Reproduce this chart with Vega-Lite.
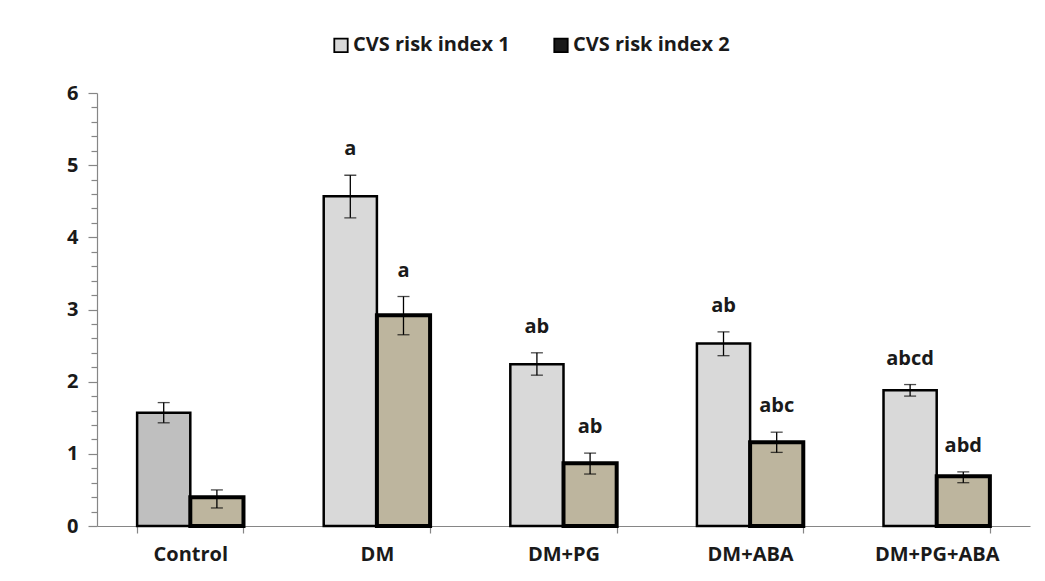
{
  "$schema": "https://vega.github.io/schema/vega-lite/v6.json",
  "width": 933,
  "height": 433,
  "autosize": {"type": "none"},
  "padding": {"left": 97, "top": 93, "right": 15, "bottom": 55},
  "background": "white",
  "config": {
    "view": {"stroke": null},
    "font": "Open Sans",
    "axis": {"labelFont": "Open Sans", "labelFontWeight": "bold", "labelFontSize": 20, "labelColor": "#1a1a1a", "domainColor": "#868686", "tickColor": "#868686", "grid": false, "title": null, "labelOverlap": false, "labelBound": false}
  },
  "data": {
    "values": [
      {"group": "Control", "index": "CVS risk index 1", "value": 1.57, "lo": 1.43, "hi": 1.71, "label": ""},
      {"group": "Control", "index": "CVS risk index 2", "value": 0.40, "lo": 0.25, "hi": 0.50, "label": ""},
      {"group": "DM", "index": "CVS risk index 1", "value": 4.57, "lo": 4.27, "hi": 4.86, "label": "a"},
      {"group": "DM", "index": "CVS risk index 2", "value": 2.92, "lo": 2.65, "hi": 3.18, "label": "a"},
      {"group": "DM+PG", "index": "CVS risk index 1", "value": 2.24, "lo": 2.09, "hi": 2.40, "label": "ab"},
      {"group": "DM+PG", "index": "CVS risk index 2", "value": 0.87, "lo": 0.72, "hi": 1.01, "label": "ab"},
      {"group": "DM+ABA", "index": "CVS risk index 1", "value": 2.53, "lo": 2.36, "hi": 2.69, "label": "ab"},
      {"group": "DM+ABA", "index": "CVS risk index 2", "value": 1.16, "lo": 1.02, "hi": 1.30, "label": "abc"},
      {"group": "DM+PG+ABA", "index": "CVS risk index 1", "value": 1.88, "lo": 1.80, "hi": 1.96, "label": "abcd"},
      {"group": "DM+PG+ABA", "index": "CVS risk index 2", "value": 0.69, "lo": 0.60, "hi": 0.75, "label": "abd"}
    ]
  },
  "encoding": {
    "x": {
      "field": "group", "type": "nominal",
      "sort": ["Control", "DM", "DM+PG", "DM+ABA", "DM+PG+ABA"],
      "scale": {"paddingInner": 0.43, "paddingOuter": 0.215},
      "axis": {"labelAngle": 0, "tickBand": "extent", "tickSize": 7, "labelPadding": 11, "domainWidth": 1.2, "tickWidth": 1.2}
    },
    "xOffset": {"field": "index", "type": "nominal", "sort": ["CVS risk index 1", "CVS risk index 2"]}
  },
  "layer": [
    {
      "mark": {"type": "bar", "stroke": "black"},
      "encoding": {
        "y": {
          "field": "value", "type": "quantitative",
          "scale": {"domain": [0, 6]},
          "axis": {
            "values": [0, 0.2, 0.4, 0.6, 0.8, 1, 1.2, 1.4, 1.6, 1.8, 2, 2.2, 2.4, 2.6, 2.8, 3, 3.2, 3.4, 3.6, 3.8, 4, 4.2, 4.4, 4.6, 4.8, 5, 5.2, 5.4, 5.6, 5.8, 6],
            "tickCount": 100,
            "labelExpr": "abs(datum.value - round(datum.value)) < 0.001 ? format(datum.value, 'd') : ''",
            "tickSize": {"condition": {"test": "abs(datum.value - round(datum.value)) < 0.001", "value": 9}, "value": 6},
            "labelPadding": 10,
            "domainWidth": 1.2,
            "tickWidth": 1.2
          }
        },
        "fill": {
          "condition": [
            {"test": "datum.group === 'Control' && datum.index === 'CVS risk index 1'", "value": "#bfbfbf"},
            {"test": "datum.index === 'CVS risk index 2'", "value": "#bdb59e"}
          ],
          "field": "index", "type": "nominal",
          "scale": {"domain": ["CVS risk index 1", "CVS risk index 2"], "range": ["#d9d9d9", "#1a1a1a"]},
          "legend": {
            "title": null,
            "orient": "none",
            "direction": "horizontal",
            "legendX": 234,
            "legendY": -58,
            "padding": 0,
            "symbolType": "square",
            "symbolSize": 180,
            "symbolStrokeColor": "black",
            "symbolStrokeWidth": 1.8,
            "symbolOpacity": 1,
            "labelFont": "Open Sans",
            "labelFontWeight": "bold",
            "labelFontSize": 20,
            "labelColor": "#1a1a1a",
            "labelOffset": 2,
            "labelLimit": 300,
            "columnPadding": 40,
            "encode": {"symbols": {"update": {"stroke": {"value": "black"}, "strokeWidth": {"value": 1.8}}}}
          }
        },
        "strokeWidth": {
          "condition": {"test": "datum.index === 'CVS risk index 2'", "value": 4},
          "value": 2.5
        }
      }
    },
    {
      "mark": {"type": "rule", "color": "black", "strokeWidth": 1.3},
      "encoding": {
        "y": {"field": "lo", "type": "quantitative"},
        "y2": {"field": "hi"}
      }
    },
    {
      "mark": {"type": "tick", "color": "black", "thickness": 1.3, "size": 12, "orient": "horizontal"},
      "encoding": {"y": {"field": "hi", "type": "quantitative"}}
    },
    {
      "mark": {"type": "tick", "color": "black", "thickness": 1.3, "size": 12, "orient": "horizontal"},
      "encoding": {"y": {"field": "lo", "type": "quantitative"}}
    },
    {
      "mark": {"type": "text", "font": "Open Sans", "fontWeight": "bold", "fontSize": 20, "color": "#1a1a1a", "baseline": "bottom", "dy": -16},
      "encoding": {
        "y": {"field": "hi", "type": "quantitative"},
        "text": {"field": "label"}
      }
    }
  ]
}
